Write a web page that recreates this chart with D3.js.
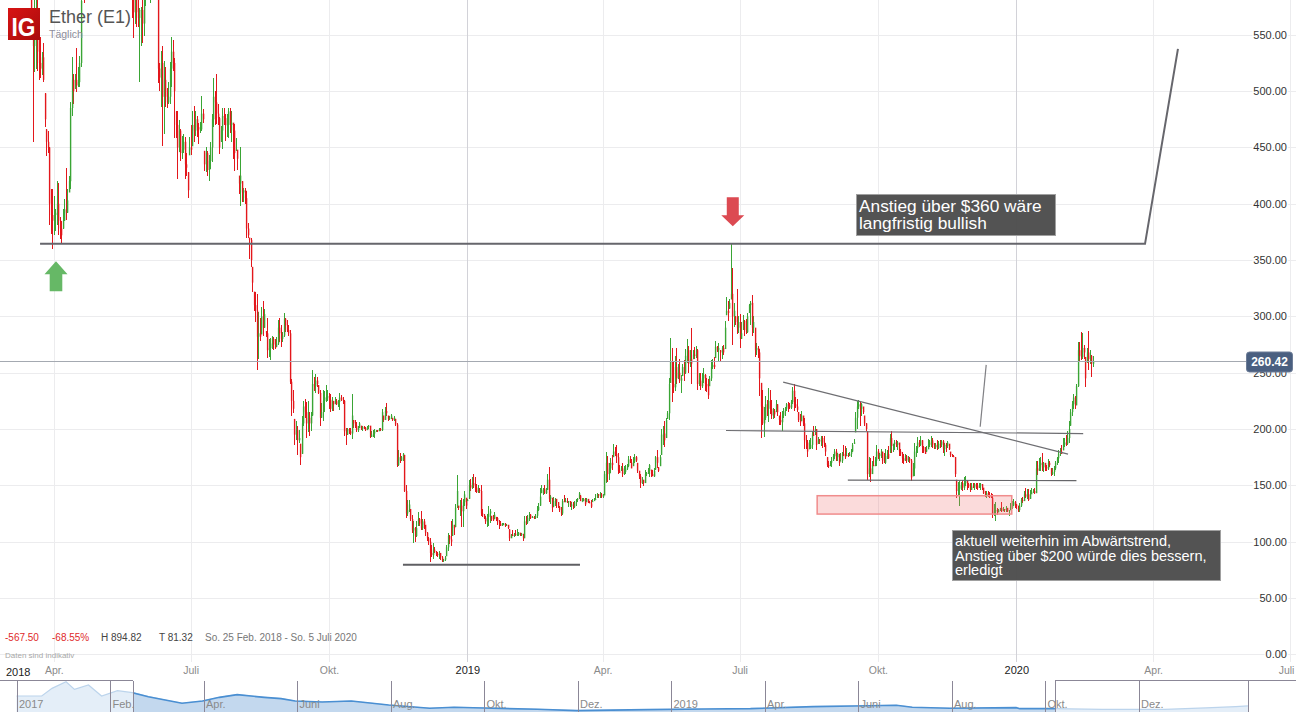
<!DOCTYPE html>
<html><head><meta charset="utf-8"><title>Ether (E1)</title>
<script src="https://cdn.jsdelivr.net/npm/d3@7/dist/d3.min.js"></script>
<style>html,body{margin:0;padding:0;background:#fff;overflow:hidden}svg{display:block;font-family:"Liberation Sans",Arial,sans-serif}</style></head><body>
<script>
const c0=[840,870,860,855,865,850,850,860,820,815],h0=[860,890,880,875,880,875,870,875,860,830],l0=[820,830,845,840,845,835,835,840,810,790];
const c1=[750,720,700,730,690,680,640,610,610,620],h1=[810,760,735,740,730,700,690,650,625,640],l1=[740,700,690,695,680,660,630,600,590,590];
const c2=[555,540,560,565,535,525,520,530,510,475],h2=[620,570,590,585,590,545,548,535,543,498],l2=[546,455,517,520,518,510,512,514,508,468];
const c3=[455,450,400,390,385,390,392,400,385,378],h3=[466,465,450,413,413,407,395,420,418,388],l3=[442,445,381,373,360,372,376,381,372,369];
const c4=[372,385,395,392,403,420,485,510,500,510],h4=[385,395,404,432,413,425,490,530,515,515],l4=[364,378,385,386,392,410,413,478,489,502];
const c5=[505,508,525,580,600,590,620,600,640,700],h5=[538,521,531,590,625,630,640,640,670,720],l5=[499,504,504,521,585,578,595,590,600,640];
const c6=[640,660,680,670,680,720,750,780,790,760],h6=[710,680,700,690,700,740,770,800,820,800],l6=[620,630,650,650,660,670,715,740,770,730];
const c7=[780,740,720,750,730,680,690,680,670,680],h7=[800,790,750,770,760,740,710,700,700,700],l7=[750,720,700,710,670,660,670,660,650,660];
const c8=[720,700,700,690,700,640,600,590,570,585],h8=[740,730,720,710,720,705,650,610,600,610],l8=[670,680,680,675,680,620,590,565,547,560];
const c9=[570,565,572,572,560,585,590,600,598,600],h9=[600,600,574,575,600,590,600,610,605,610],l9=[557,557,508,540,543,549,576,585,590,578];
const c10=[590,595,600,590,520,512,525,495,510,495],h10=[610,610,610,605,610,525,536,540,527,521],l10=[585,585,590,585,507,500,486,451,462,486];
const c11=[490,495,520,535,525,500,470,450,465,445],h11=[503,508,526,548,545,529,482,482,474,466],l11=[485,489,489,504,518,458,458,422,446,438];
const c12=[448,455,435,432,412,450,448,470,465,475],h12=[460,462,459,445,428,459,470,482,487,482],l12=[440,445,422,425,405,443,443,451,455,460];
const c13=[468,466,466,480,475,435,445,430,438,450],h13=[478,472,473,496,484,447,450,447,443,455],l13=[459,453,463,465,472,429,428,425,420,431];
const c14=[475,495,490,480,476,450,465,478,476,470],h14=[480,512,500,515,489,477,469,485,485,480],l14=[437,468,470,471,470,444,455,449,470,456];
const c15=[470,482,470,472,465,445,448,440,418,425],h15=[480,485,485,482,472,471,458,448,425,450],l15=[459,458,463,455,440,429,447,430,409,398];
const c16=[410,412,405,378,372,368,350,330,310,305],h16=[420,414,414,411,383,370,370,344,322,322],l16=[402,402,400,370,370,351,344,322,305,295];
const c17=[282,285,282,300,290,302,285,270,272,276],h17=[320,304,299,308,314,307,287,299,280,281],l17=[252,262,278,284,283,290,282,263,264,261];
const c18=[280,275,272,276,290,285,280,283,298,292],h18=[283,282,280,282,297,299,292,286,303,299],l18=[271,270,271,273,275,277,273,277,282,286];
const c19=[288,285,242,225,218,195,199,190,192,175],h19=[297,292,288,244,235,209,207,203,199,187],l19=[286,283,240,212,214,186,190,177,188,168];
const c20=[205,220,215,205,210,205,212,240,238,243],h20=[212,225,227,224,225,215,215,252,246,249],l20=[178,203,210,192,197,194,198,212,234,232];
const c21=[240,232,210,215,225,228,228,229,226,218],h21=[246,239,235,223,235,234,239,235,232,231],l21=[237,231,203,210,207,215,224,225,218,215];
const c22=[225,222,225,222,224,228,226,225,198,195],h22=[228,225,228,227,226,232,230,228,226,201],l22=[216,216,222,221,220,217,225,222,194,186];
const c23=[200,198,196,212,205,203,199,201,205,200],h23=[201,201,201,231,208,208,206,203,206,203],l23=[195,196,195,191,201,201,197,197,201,199];
const c24=[202,201,199,202,203,193,195,196,198,199],h24=[203,203,202,203,204,203,198,199,200,199],l24=[198,200,198,199,200,192,193,193,192,197];
const c25=[198,200,199,215,208,216,214,209,210,212],h25=[199,201,201,218,212,220,223,212,212,213],l25=[197,198,198,198,206,208,212,207,208,209];
const c26=[208,210,204,168,175,172,175,178,145,125],h26=[210,212,209,205,181,179,176,179,177,150],l26=[207,207,203,166,167,170,172,172,144,121];
const c27=[128,133,120,110,112,105,112,120,116,112],h27=[137,137,129,124,118,113,118,126,121,127],l27=[123,126,118,108,99,100,104,114,114,110];
const c28=[118,115,108,103,100,90,88,93,91,89],h28=[120,120,115,109,104,103,97,99,95,92],l28=[110,111,105,101,97,82,86,85,90,87];
const c29=[88,90,86,83,84,86,95,105,102,100],h29=[91,92,90,87,85,87,97,108,106,118],l29=[86,85,84,82,82,83,87,92,98,96];
const c30=[115,112,130,145,130,132,127,135,142,132],h30=[120,115,133,159,132,137,139,138,145,139],l30=[105,106,113,130,128,123,113,113,132,129];
const c31=[137,150,148,152,150,148,144,146,145,125],h31=[138,155,156,157,160,157,151,150,148,150],l31=[136,138,145,147,148,144,143,143,143,123];
const c32=[124,121,118,122,125,127,120,119,124,121],h32=[129,125,123,125,132,129,123,124,126,122],l32=[122,120,116,113,114,117,118,118,120,118];
const c33=[118,116,114,116,116,114,115,112,103,106],h33=[122,119,118,117,117,117,116,115,111,107],l33=[115,111,114,114,115,113,114,111,101,103];
const c34=[105,107,106,106,108,106,107,103,118,117],h34=[110,108,110,111,109,108,108,107,123,123],l34=[105,104,105,105,105,105,105,101,103,115];
const c35=[121,124,121,122,121,123,128,131,140,146],h35=[124,126,125,123,123,125,132,134,148,150],l35=[116,118,120,121,120,120,121,127,132,143];
const c36=[147,143,146,155,138,140,130,136,138,135],h36=[148,150,148,160,166,141,139,140,139,138],l36=[141,142,142,146,135,133,126,131,132,130];
const c37=[131,128,125,136,135,136,135,136,132,133],h37=[135,132,131,138,141,139,139,136,136,135],l37=[130,126,123,124,135,135,134,131,131,128];
const c38=[131,135,137,138,143,136,136,138,133,138],h38=[135,136,138,139,144,141,139,139,139,139],l38=[129,130,132,135,138,136,136,136,132,135];
const c39=[135,134,131,136,138,138,142,141,142,140],h39=[138,136,137,138,139,142,143,142,144,143],l39=[134,134,130,135,136,138,139,139,139,139];
const c40=[141,160,170,160,165,170,168,180,178,175],h40=[142,163,180,176,170,174,177,187,184,186],l40=[139,141,152,153,155,161,164,175,176,170];
const c41=[163,161,165,160,162,165,167,173,170,165],h41=[179,168,167,170,167,168,169,176,176,173],l41=[160,161,163,157,159,160,164,166,170,165];
const c42=[171,175,172,163,158,152,155,152,160,161],h42=[175,178,176,170,163,160,157,155,164,162],l42=[167,170,171,161,156,148,151,149,152,158];
const c43=[163,168,160,158,163,175,170,163,175,195],h43=[165,169,164,164,165,176,181,166,177,200],l43=[160,157,157,158,157,164,165,162,167,177];
const c44=[196,190,208,214,240,260,240,237,255,245],h44=[203,207,210,216,245,281,272,260,265,272],l44=[186,184,192,209,208,241,224,232,234,240];
const c45=[250,243,245,255,250,265,270,258,262,258],h45=[258,262,248,258,261,271,280,274,270,290],l45=[244,241,232,247,243,249,259,250,255,240];
const c46=[266,265,270,240,243,238,245,248,240,238],h46=[270,273,274,271,250,250,250,254,249,245],l46=[262,262,263,235,238,235,236,241,234,233];
const c47=[230,245,255,257,255,273,270,272,268,272],h47=[244,247,261,262,264,278,274,276,270,274],l47=[227,238,243,253,253,263,268,260,260,262];
const c48=[268,290,305,303,312,320,300,305,295,290],h48=[275,296,317,314,315,365,343,312,300,324],l48=[266,271,301,296,307,315,275,291,292,284];
const c49=[295,280,285,296,288,286,300,310,312,290],h49=[300,302,295,301,297,298,303,311,314,319],l49=[285,272,280,288,283,284,285,303,292,283];
const c50=[295,270,272,268,245,220,205,210,222,218],h50=[300,290,276,274,271,241,235,220,229,226],l50=[285,264,266,263,229,192,204,193,208,212];
const c51=[225,218,212,216,213,222,215,208,206,212],h51=[236,235,226,219,218,226,222,212,215,216],l51=[206,213,209,209,210,215,212,204,204,198];
const c52=[216,218,222,221,219,224,234,222,220,217],h52=[219,220,223,224,223,226,237,240,228,227],l52=[210,212,216,215,218,218,222,216,219,215];
const c53=[208,206,212,205,190,188,180,183,186,195],h53=[215,213,216,212,210,195,190,190,192,198],l53=[206,203,207,203,182,182,175,182,182,182];
const c54=[194,200,186,190,189,192,188,186,180,168],h54=[203,203,200,193,191,194,194,194,188,175],l54=[194,195,181,187,187,185,183,184,176,166];
const c55=[167,170,172,176,180,175,178,170,172,178],h55=[172,172,175,178,182,182,179,178,179,180],l55=[165,167,166,172,173,172,172,167,172,170];
const c56=[176,175,177,176,178,180,186,188,210,220],h56=[186,185,183,179,180,182,188,191,215,225],l56=[176,173,176,175,176,175,180,187,197,200];
const c57=[222,218,222,215,205,200,160,165,160,168],h57=[226,224,223,220,212,205,198,175,174,172],l57=[218,203,212,213,203,198,155,157,153,160];
const c58=[167,172,180,176,178,180,172,170,176,178],h58=[176,175,186,182,179,182,180,179,182,181],l58=[167,167,167,173,172,174,169,170,169,173];
const c59=[174,192,185,187,188,186,188,180,178,174],h59=[185,196,198,187,190,190,189,188,182,180],l59=[173,179,179,180,181,184,181,176,176,170];
const c60=[172,176,172,174,172,157,165,180,183,188],h60=[178,178,177,176,175,173,170,188,185,193],l60=[169,172,170,171,170,154,158,158,175,179];
const c61=[186,190,184,180,178,182,186,188,190,186],h61=[190,194,190,185,184,185,191,190,194,192],l61=[184,185,179,179,178,180,182,184,184,183];
const c62=[184,186,183,187,186,189,182,186,185,188],h62=[188,188,190,189,190,190,190,188,188,189],l62=[182,182,181,182,183,184,179,176,180,183];
const c63=[182,177,176,175,160,145,147,150,152,148],h63=[187,180,178,177,175,155,153,154,153,155],l63=[181,175,175,175,157,139,141,132,146,145];
const c64=[152,154,151,149,146,149,148,151,149,148],h64=[157,158,155,152,152,152,152,152,152,152],l64=[146,149,146,148,144,146,148,146,147,146];
const c65=[150,151,148,143,141,143,141,140,139,125],h65=[152,152,151,148,145,145,145,144,143,142],l65=[148,146,146,142,140,139,140,139,139,121];
const c66=[127,128,126,128,130,127,129,128,130,127],h66=[133,135,130,129,130,135,131,129,132,130],l66=[123,118,124,126,127,126,127,126,126,126];
const c67=[128,130,132,135,133,132,128,132,137,136],h67=[128,134,136,138,136,133,132,134,139,140],l67=[123,128,129,132,130,129,126,126,131,134];
const c68=[142,140,142,137,142,144,145,143,165,163],h68=[145,148,147,147,146,148,147,148,172,172],l68=[136,139,138,136,138,142,143,142,143,159];
const c69=[168,170,166,170,166,165,170,168,160,162],h69=[174,175,179,171,170,168,173,172,165,165],l69=[163,163,163,162,163,163,164,166,158,159];
const c70=[165,170,174,178,180,178,186,188,187,192],h70=[167,172,175,181,183,186,192,192,195,198],l70=[158,164,168,170,176,178,181,184,185,186];
const c71=[200,215,222,228,221,238,270,265,264,272],h71=[207,218,225,231,229,240,277,277,286,285],l71=[188,203,212,218,218,221,237,260,261,262];
const c72=[268,245,268,262,265,258,260.42],h72=[275,264,272,287,270,266,265],l72=[262,237,259,252,258,246,255];

const closes=[c0,c1,c2,c3,c4,c5,c6,c7,c8,c9,c10,c11,c12,c13,c14,c15,c16,c17,c18,c19,c20,c21,c22,c23,c24,c25,c26,c27,c28,c29,c30,c31,c32,c33,c34,c35,c36,c37,c38,c39,c40,c41,c42,c43,c44,c45,c46,c47,c48,c49,c50,c51,c52,c53,c54,c55,c56,c57,c58,c59,c60,c61,c62,c63,c64,c65,c66,c67,c68,c69,c70,c71,c72].flat();
const highs=[h0,h1,h2,h3,h4,h5,h6,h7,h8,h9,h10,h11,h12,h13,h14,h15,h16,h17,h18,h19,h20,h21,h22,h23,h24,h25,h26,h27,h28,h29,h30,h31,h32,h33,h34,h35,h36,h37,h38,h39,h40,h41,h42,h43,h44,h45,h46,h47,h48,h49,h50,h51,h52,h53,h54,h55,h56,h57,h58,h59,h60,h61,h62,h63,h64,h65,h66,h67,h68,h69,h70,h71,h72].flat();
const lows=[l0,l1,l2,l3,l4,l5,l6,l7,l8,l9,l10,l11,l12,l13,l14,l15,l16,l17,l18,l19,l20,l21,l22,l23,l24,l25,l26,l27,l28,l29,l30,l31,l32,l33,l34,l35,l36,l37,l38,l39,l40,l41,l42,l43,l44,l45,l46,l47,l48,l49,l50,l51,l52,l53,l54,l55,l56,l57,l58,l59,l60,l61,l62,l63,l64,l65,l66,l67,l68,l69,l70,l71,l72].flat();

const lastPrice=260.42;
const priceTicks=[0,50,100,150,200,250,300,350,400,450,500,550];
const monthTicks=[[2018,3,"Apr."],[2018,6,"Juli"],[2018,9,"Okt."],[2019,3,"Apr."],[2019,6,"Juli"],[2019,9,"Okt."],[2020,3,"Apr."],[2020,6,"Juli"]];
const yearTicks=[[2019,0,"2019"],[2020,0,"2020"]];

// drawing-tool annotations: [day since first bar, price]
const resistance=[[25.9,364.4],[760.6,364.4],[782.5,537.5]];
const support80=[[267.2,79.5],[384.9,79.5]];
const trendLine=[[520,241.7],[709.4,177.7]];
const level198=[[482,198.7],[719.5,196]];
const level154=[[563,154.6],[715,154.2]];
const tick200=[[651,202],[655,257]];
const zoneDays=[542.6,672],zonePrices=[140.8,124.5];
const notes1=["Anstieg über $360 wäre","langfristig bullish"];
const notes2=["aktuell weiterhin im Abwärtstrend,","Anstieg über $200 würde dies bessern,","erledigt"];
const statsTexts=[["-567.50","#e02a2a"],["-68.55%","#e02a2a"],["H 894.82","#444"],["T 81.32","#444"],["So. 25 Feb. 2018 - So. 5 Juli 2020","#777"]];

const navLabels=["2017","Feb.","Apr.","Juni","Aug.","Okt.","Dez.","2019","Apr.","Juni","Aug.","Okt.","Dez."];
const navEnd=13.17,navSel=[1.242,11.107];
const navT=[0,.13,.27,.38,.53,.62,.77,.91,1.08,1.24,1.41,1.59,1.77,1.99,2.17,2.36,2.65,2.83,2.98,3.27,3.58,3.98,4.42,4.68,4.99,5.57,5.99,6.75,7.37,7.85,8.52,8.96,9.41,9.58,9.98,10.69,10.73,11.11,11.61,12.28,12.72,13.04,13.17];
const navPrice=[473,473,473,699,895,669,797,473,630,571,453,355,257,325,433,512,433,394,325,296,325,207,109,139,119,79,40,69,89,99,158,178,198,139,109,129,99,99,79,79,119,158,178];

const W=1296,H=712,DAY=864e5,t0=Date.UTC(2018,1,25);
const x=d3.scaleUtc().domain([t0,Date.UTC(2020,6,1)]).range([1.1,1290]);
const xd=d=>x(t0+d*DAY);
const y=d3.scaleLinear().domain([0,550]).range([654.3,34.8]);
const svg=d3.select("body").append("svg").attr("width",W).attr("height",H).attr("viewBox",`0 0 ${W} ${H}`);
const defs=svg.append("defs");
const lg=defs.append("linearGradient").attr("id","ig").attr("x1",0).attr("y1",0).attr("x2",1).attr("y2",1);
lg.append("stop").attr("offset",0).attr("stop-color","#d81414");lg.append("stop").attr("offset",1).attr("stop-color","#a80c0c");
defs.append("clipPath").attr("id","selClip").append("rect").attr("x",133).attr("y",680).attr("width",922).attr("height",32);

const grid=svg.append("g").attr("shape-rendering","crispEdges");
grid.selectAll("line.h").data(priceTicks).join("line").attr("x1",0).attr("x2",W).attr("y1",d=>Math.round(y(d))+.5).attr("y2",d=>Math.round(y(d))+.5).attr("stroke","#ececee");
const monthDates=monthTicks.map(d=>Date.UTC(d[0],d[1],1)),yearDates=yearTicks.map(d=>Date.UTC(d[0],d[1],1));
grid.selectAll("line.m").data(monthDates).join("line").attr("x1",d=>Math.round(x(d))+.5).attr("x2",d=>Math.round(x(d))+.5).attr("y1",0).attr("y2",662).attr("stroke","#ececee");
grid.selectAll("line.y").data(yearDates).join("line").attr("x1",d=>Math.round(x(d))+.5).attr("x2",d=>Math.round(x(d))+.5).attr("y1",0).attr("y2",662).attr("stroke","#d2d2d8");

// candlesticks
const bars=closes.map((c,i)=>{const hi=highs[i],lo=lows[i];let o=i?closes[i-1]:c;o=Math.min(hi,Math.max(lo,o));return {i,hi,lo,c,o};});
const col=d=>d.c>=d.o?"#3aa535":"#e3171c";
const cg=svg.append("g");
cg.selectAll("rect.w").data(bars).join("rect").attr("shape-rendering","crispEdges").attr("x",d=>Math.round(xd(d.i))).attr("width",1)
  .attr("y",d=>y(d.hi)).attr("height",d=>Math.max(1,y(d.lo)-y(d.hi))).attr("fill",col);
cg.selectAll("rect.b").data(bars).join("rect").attr("x",d=>Math.round(xd(d.i))-.1).attr("width",1.4)
  .attr("y",d=>y(Math.max(d.o,d.c))).attr("height",d=>Math.max(1,Math.abs(y(d.o)-y(d.c)))).attr("fill",col);

// current price line
svg.append("line").attr("x1",0).attr("x2",1250).attr("y1",Math.round(y(lastPrice))+.5).attr("y2",Math.round(y(lastPrice))+.5).attr("stroke","#a4a9b1").attr("shape-rendering","crispEdges");

// zone and drawn lines
svg.append("rect").attr("x",xd(zoneDays[0])).attr("width",xd(zoneDays[1])-xd(zoneDays[0])).attr("y",y(zonePrices[0])).attr("height",y(zonePrices[1])-y(zonePrices[0]))
  .attr("fill","#ee6a6a").attr("fill-opacity",.24).attr("stroke","#f08c8c").attr("stroke-width",1.5);
const ln=d3.line().x(d=>xd(d[0])).y(d=>y(d[1]));
const draw=(pts,w,c)=>svg.append("path").attr("d",ln(pts)).attr("fill","none").attr("stroke",c).attr("stroke-width",w);
draw(resistance,2,"#66666c");draw(support80,2.2,"#5f5f63");draw(trendLine,1.2,"#6e6e72");draw(level198,1.2,"#6e6e72");draw(level154,1.1,"#66666a");draw(tick200,1.2,"#808084");

// arrows
const arrow=(cx,tip,dir,hw,sw,hl,total,c)=>svg.append("path").attr("fill",c)
 .attr("d",d3.line()([[cx,tip],[cx+hw,tip+dir*hl],[cx+sw,tip+dir*hl],[cx+sw,tip+dir*total],[cx-sw,tip+dir*total],[cx-sw,tip+dir*hl],[cx-hw,tip+dir*hl]])+"Z");
arrow(xd(36.5),y(349),1,11.5,6.3,13,30,"#66b866");
arrow(xd(486.5),y(380),-1,11.5,6,11,29,"#dc4a52");

// text boxes
const box=(bx,by,w,h,lines,fs,lh,base)=>{
 svg.append("rect").attr("x",bx).attr("y",by).attr("width",w).attr("height",h).attr("fill","#4d4d4d").attr("fill-opacity",.97).attr("stroke","#a0a0a0").attr("stroke-width",1);
 svg.append("g").selectAll("text").data(lines).join("text").attr("x",bx+2.5).attr("y",(d,i)=>base+i*lh).attr("fill","#fff").attr("font-size",fs).text(d=>d);
};
box(856.5,194.5,199,41,notes1,17.3,16.5,212);
box(952.5,530.5,268,50,notes2,14.5,14.6,546);

// price axis
const ax=d3.axisRight(y).tickValues(priceTicks).tickFormat(d3.format(".2f")).tickSize(0).tickPadding(0);
const ag=svg.append("g").attr("transform","translate(1253,0)").call(ax);
ag.select(".domain").remove();
ag.selectAll("text").attr("font-size",11).attr("fill","#333").attr("font-family","Liberation Sans").attr("x",34).attr("text-anchor","end").attr("paint-order","stroke").attr("stroke","#fff").attr("stroke-width",3);
svg.append("rect").attr("x",1246.5).attr("y",352).attr("width",46).attr("height",20).attr("rx",3).attr("fill","#4a5f80").attr("stroke","#6d7d97");
svg.append("text").attr("x",1269.5).attr("y",366).attr("text-anchor","middle").attr("fill","#fff").attr("font-size",12).attr("font-weight","bold").text(lastPrice.toFixed(2));

// time axis
const txm=d3.axisBottom(x).tickValues(monthDates).tickFormat((d,i)=>monthTicks[i][2]).tickSize(0).tickPadding(0);
const tm=svg.append("g").attr("transform","translate(0,666)").call(txm);tm.select(".domain").remove();
tm.selectAll("text").attr("font-size",10.5).attr("fill","#8a8a8a").attr("font-family","Liberation Sans").attr("y",0).attr("dy",".72em");
tm.selectAll("text").filter((d,i)=>i===monthTicks.length-1).attr("x",-4);
const txy=d3.axisBottom(x).tickValues(yearDates).tickFormat((d,i)=>yearTicks[i][2]).tickSize(0).tickPadding(0);
const ty=svg.append("g").attr("transform","translate(0,666)").call(txy);ty.select(".domain").remove();
ty.selectAll("text").attr("font-size",11).attr("fill","#222").attr("font-family","Liberation Sans").attr("y",0).attr("dy",".72em");
svg.append("text").attr("x",6).attr("y",675.5).attr("font-size",11).attr("fill","#222").text("2018");

// header
svg.append("rect").attr("x",8).attr("y",8).attr("width",32).attr("height",32).attr("fill","url(#ig)");
svg.append("text").attr("x",23.5).attr("y",35.5).attr("text-anchor","middle").attr("fill","#fff").attr("font-size",25).attr("font-weight","bold").attr("textLength",24).attr("lengthAdjust","spacingAndGlyphs").text("IG");
svg.append("text").attr("x",49).attr("y",23).attr("font-size",18).attr("fill","#555").text("Ether (E1)");
svg.append("text").attr("x",49).attr("y",37.5).attr("font-size",10.5).attr("fill","#8d8d9b").text("Täglich");

// stats
const statX=[5,52,101,159,205];
svg.append("g").selectAll("text").data(statsTexts).join("text").attr("x",(d,i)=>statX[i]).attr("y",641).attr("font-size",10).attr("fill",d=>d[1]).text(d=>d[0]);
svg.append("text").attr("x",5).attr("y",658).attr("font-size",8).attr("fill","#a8a8a8").text("Daten sind indikativ");

// navigator
const nx=d3.scaleLinear().domain([0,12]).range([16.5,1138.5]);
const ny=d3.scaleLinear().domain([0,895]).range([712,681.7]);
const navData=navT.map((t,i)=>[t,navPrice[i]]);
const area=d3.area().x(d=>nx(d[0])).y0(712).y1(d=>ny(d[1]));
const nl=d3.line().x(d=>nx(d[0])).y(d=>ny(d[1]));
svg.append("path").attr("d",area(navData)).attr("fill","#e4eef8");
svg.append("path").attr("d",nl(navData)).attr("fill","none").attr("stroke","#bcd4ec").attr("stroke-width",1.2);
const sel=svg.append("g").attr("clip-path","url(#selClip)");
sel.append("path").attr("d",area(navData)).attr("fill","#c3d8ee");
sel.append("path").attr("d",nl(navData)).attr("fill","none").attr("stroke","#4a8fd2").attr("stroke-width",1.6);
const ng=svg.append("g").attr("shape-rendering","crispEdges");
const navTicks=d3.range(13).concat([navEnd]);
ng.selectAll("line.t").data(navTicks).join("line").attr("x1",d=>Math.round(nx(d))+.5).attr("x2",d=>Math.round(nx(d))+.5).attr("y1",681).attr("y2",712).attr("stroke","#8b8797");
ng.selectAll("line.e").data(navSel).join("line").attr("x1",d=>Math.round(nx(d))+.5).attr("x2",d=>Math.round(nx(d))+.5).attr("y1",681).attr("y2",712).attr("stroke","#8b8797");
ng.append("line").attr("x1",0).attr("x2",nx(navSel[0])).attr("y1",680.5).attr("y2",680.5).attr("stroke","#8b8797");
ng.append("line").attr("x1",nx(navSel[1])).attr("x2",W).attr("y1",680.5).attr("y2",680.5).attr("stroke","#8b8797");
svg.append("g").selectAll("text").data(navLabels).join("text").attr("x",(d,i)=>nx(i)+2.5).attr("y",708).attr("font-size",11).attr("fill","#8a8a8a").text(d=>d);
</script></body></html>
